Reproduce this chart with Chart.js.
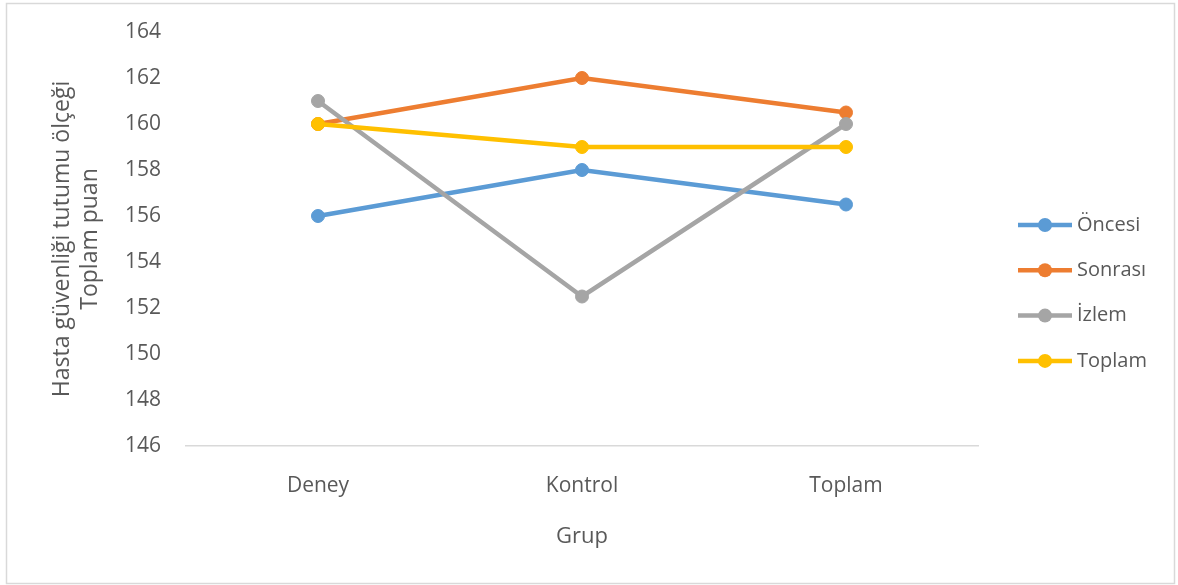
<!DOCTYPE html>
<html>
<head>
<meta charset="utf-8">
<script src="https://cdn.jsdelivr.net/npm/chart.js@4/dist/chart.umd.min.js"></script>
<style>
  body { margin: 0; background: #fff; }
  canvas { display: block; }
</style>
</head>
<body>
<canvas id="lineChart" width="1178" height="585"></canvas>
<script>
const groups = ['Deney', 'Kontrol', 'Toplam'];   // x-axis categories
const seriesNames = ['Öncesi', 'Sonrası', 'İzlem', 'Toplam'];
const oncesi = [156, 158, 156.5];
const sonrasi = [160, 162, 160.5];
const izlem = [161, 152.5, 160];
const toplam = [160, 159, 159];
const yTicks = [146, 148, 150, 152, 154, 156, 158, 160, 162, 164];

const colors = ['#5B9BD5', '#ED7D31', '#A5A5A5', '#FFC000'];
const textColor = '#595959';
const fontFamily = "'Open Sans', 'Noto Sans', sans-serif";

// white page + thin grey frame round the whole chart
const frame = {
    id: 'frame',
    beforeDraw(chart) {
        const ctx = chart.ctx;
        ctx.save();
        ctx.fillStyle = '#fff';
        ctx.fillRect(0, 0, chart.width, chart.height);
        ctx.strokeStyle = '#d9d9d9';
        ctx.lineWidth = 1.5;
        ctx.strokeRect(6.5, 3.5, 1168, 580);
        ctx.restore();
    }
};

// legend on the right: short line with a marker in the middle, then the name
const lineLegend = {
    id: 'lineLegend',
    afterDraw(chart, args, opts) {
        const ctx = chart.ctx;
        ctx.save();
        chart.data.datasets.forEach((ds, i) => {
            const y = opts.top + i * opts.gap;
            ctx.strokeStyle = ds.borderColor;
            ctx.lineWidth = 4.5;
            ctx.beginPath();
            ctx.moveTo(opts.left, y);
            ctx.lineTo(opts.left + 54, y);
            ctx.stroke();
            ctx.fillStyle = ds.borderColor;
            ctx.beginPath();
            ctx.arc(opts.left + 27, y, 7, 0, Math.PI * 2);
            ctx.fill();
            ctx.fillStyle = textColor;
            ctx.font = '20px ' + fontFamily;
            ctx.textBaseline = 'middle';
            ctx.textAlign = 'left';
            ctx.fillText(ds.label, opts.left + 59, y);
        });
        ctx.restore();
    }
};

const seriesData = [oncesi, sonrasi, izlem, toplam];

const myChart = new Chart(document.getElementById('lineChart'), {
    type: 'line',
    data: {
        labels: groups,
        datasets: seriesData.map((vals, i) => ({
            label: seriesNames[i],
            data: vals,
            borderColor: colors[i],
            backgroundColor: colors[i],
            borderWidth: 4.5,
            pointRadius: 6.5,
            pointBorderWidth: 1,
            pointHoverRadius: 6.5,
            fill: false,
            tension: 0,
            order: seriesData.length - i   // later series sit on top
        }))
    },
    options: {
        responsive: false,
        animation: false,
        layout: {
            padding: { top: 32, right: 200, bottom: 0, left: 0 }
        },
        scales: {
            x: {
                offset: true,
                grid: { display: false, drawTicks: false },
                border: { display: true, color: '#d9d9d9', width: 1.5 },
                ticks: {
                    color: textColor,
                    padding: 27,
                    font: { family: fontFamily, size: 21 }
                },
                title: {
                    display: true,
                    text: 'Grup',
                    color: textColor,
                    font: { family: fontFamily, size: 22, lineHeight: 1.27 },
                    padding: { top: 0, bottom: 34 }
                },
                afterFit(scale) { scale.height = 139; }
            },
            y: {
                min: 146,
                max: 164,
                afterBuildTicks(scale) {
                    scale.ticks = yTicks.map(v => ({ value: v }));
                },
                grid: { display: false, drawTicks: false },
                border: { display: false },
                ticks: {
                    color: textColor,
                    padding: 25,
                    font: { family: fontFamily, size: 21 }
                },
                title: {
                    display: true,
                    text: ['Hasta güvenliği tutumu ölçeği', 'Toplam puan'],
                    color: textColor,
                    font: { family: fontFamily, size: 23, lineHeight: 1.22 },
                    padding: { top: 48, bottom: 0 }
                },
                afterFit(scale) {
                    scale.width = 186;
                    // plot top/bottom are set by the layout padding, not the labels
                    scale.paddingTop = 0;
                    scale.paddingBottom = 0;
                }
            }
        },
        plugins: {
            legend: { display: false },
            tooltip: { enabled: false },
            lineLegend: { left: 1018, top: 225, gap: 45.3 }
        }
    },
    plugins: [frame, lineLegend]
});
</script>
</body>
</html>
